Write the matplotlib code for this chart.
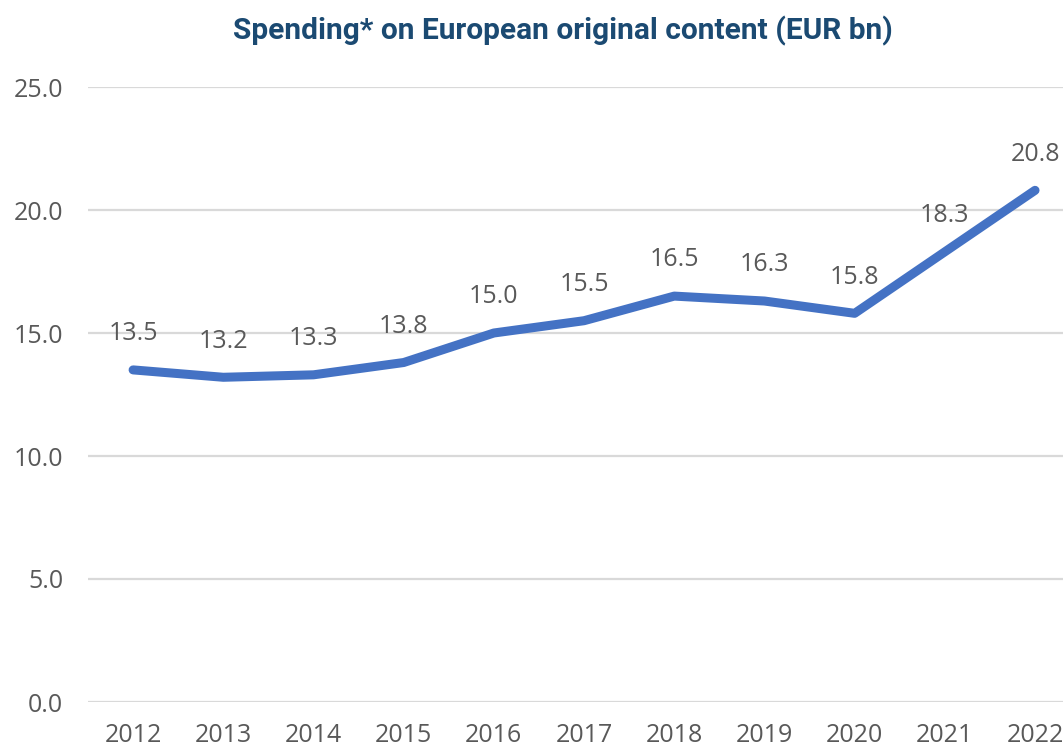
import matplotlib.pyplot as plt

years = ["2012", "2013", "2014", "2015", "2016", "2017", "2018", "2019", "2020", "2021", "2022"]
spending = [13.5, 13.2, 13.3, 13.8, 15.0, 15.5, 16.5, 16.3, 15.8, 18.3, 20.8]
y_ticks = [0, 5, 10, 15, 20, 25]

TEXT = "#595959"
GRID = "#d9d9d9"
LINE = "#4472c4"
TITLE = "#1b4a72"

plt.rcParams["font.family"] = ["Open Sans", "DejaVu Sans"]

fig = plt.figure(figsize=(10.63, 7.5), dpi=100)
ax = fig.add_axes([88 / 1063, 48 / 750, 1 - 88 / 1063, (702 - 87) / 750])

x = list(range(len(years)))
ax.plot(x, spending, color=LINE, linewidth=6.5, solid_capstyle="round",
        solid_joinstyle="round", zorder=3)

for xi, v in zip(x, spending):
    ax.annotate(f"{v:.1f}", (xi, v), xytext=(0, 26), textcoords="offset points",
                ha="center", va="center", fontsize=18, color=TEXT)

ax.set_xlim(-0.5, 10.31)
ax.set_ylim(0, 25)
ax.set_yticks(y_ticks)
ax.set_yticklabels([f"{t:.1f}" for t in y_ticks])
ax.set_xticks(x)
ax.set_xticklabels(years)
ax.tick_params(length=0, labelsize=18, labelcolor=TEXT)
ax.tick_params(axis="x", pad=15)
ax.tick_params(axis="y", pad=18)
ax.grid(axis="y", color=GRID, linewidth=1.6)
ax.set_axisbelow(True)
for s in ax.spines.values():
    s.set_visible(False)

fig.text(563 / 1063, 1 - 31 / 750, "Spending* on European original content (EUR bn)",
         ha="center", va="center", fontsize=21.5, fontweight="bold", color=TITLE,
         family=["Roboto", "DejaVu Sans"])

fig.savefig("out.png", dpi=100)
